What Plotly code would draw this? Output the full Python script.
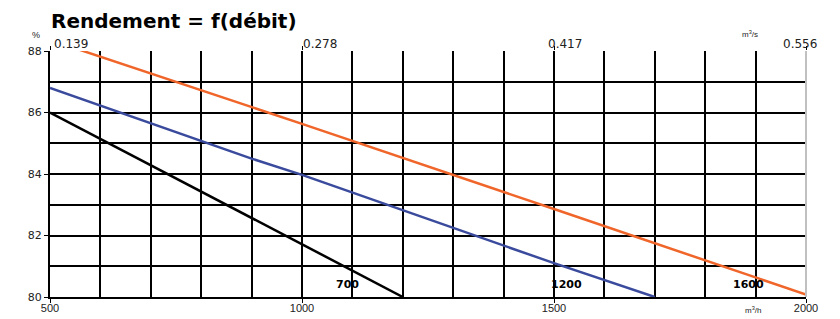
import plotly.graph_objects as go

# Data (m³/h vs efficiency %)
flow_700 = [500, 1200]
eff_700 = [86.0, 80.0]

flow_1200 = [500, 900, 1000, 1500, 1700]
eff_1200 = [86.8, 84.5, 83.97, 81.1, 80.0]

flow_1600 = [500, 1000, 1500, 2000]
eff_1600 = [88.36, 85.63, 82.86, 80.08]

series_names = ["700", "1200", "1600"]
series_colors = ["#000000", "#3A4A9C", "#F0652A"]
label_pos_x = [1090, 1525, 1885]
label_pos_y = [80.4, 80.4, 80.4]

top_tick_values = [500, 1000, 1500, 2000]
top_tick_text = ["0.139", "0.278", "0.417", "0.556"]
top_tick_shift = [21, 18, 11, -6]

bottom_ticks = [500, 1000, 1500, 2000]
y_ticks = [80, 82, 84, 86, 88]

fig = go.Figure()
for fx, fy, c in [(flow_700, eff_700, series_colors[0]),
                  (flow_1200, eff_1200, series_colors[1]),
                  (flow_1600, eff_1600, series_colors[2])]:
    fig.add_trace(go.Scatter(x=fx, y=fy, mode="lines",
                             line=dict(color=c, width=2.5), showlegend=False))

# top axis (m³/s)
fig.add_trace(go.Scatter(x=[v / 3600 for v in top_tick_values], y=[80, 80], xaxis="x2",
                         mode="none", showlegend=False, hoverinfo="skip"))

tick_font = dict(family="Liberation Sans", size=11, color="#222222")
ytick_font = dict(family="DejaVu Sans", size=11, color="#222222")
top_font = dict(family="DejaVu Sans", size=12, color="#222222")

annotations = []
for n, x, y in zip(series_names, label_pos_x, label_pos_y):
    annotations.append(dict(x=x, y=y, text="<b>" + n + "</b>", showarrow=False, xref="x", yref="y",
                            font=dict(family="DejaVu Sans", size=11, color="#000"),
                            xanchor="center", yanchor="middle"))
for v, t, s in zip(top_tick_values, top_tick_text, top_tick_shift):
    annotations.append(dict(x=v, y=1, xref="x", yref="paper", text=t, showarrow=False,
                            xanchor="center", yanchor="bottom", xshift=s, yshift=-2,
                            font=top_font))
annotations += [
    dict(x=0, y=1, xref="paper", yref="paper", text="%", showarrow=False,
         xanchor="right", yanchor="bottom", xshift=-8, yshift=9,
         font=dict(family="Liberation Sans", size=9, color="#222")),
    dict(x=0.926, y=1, xref="paper", yref="paper", text="m<sup>3</sup>/s", showarrow=False,
         xanchor="center", yanchor="bottom", yshift=10,
         font=dict(family="Liberation Sans", size=8, color="#222")),
    dict(x=0.93, y=0, xref="paper", yref="paper", text="m<sup>3</sup>/h", showarrow=False,
         xanchor="center", yanchor="top", yshift=-6,
         font=dict(family="Liberation Sans", size=8, color="#222")),
    dict(x=0, y=1, xref="paper", yref="paper", text="<b>Rendement = f(débit)</b>",
         showarrow=False, xanchor="left", yanchor="middle", xshift=0, yshift=30,
         borderpad=0, font=dict(family="DejaVu Sans", size=20, color="#000")),
]

fig.update_layout(
    width=832, height=311,
    margin=dict(l=42, r=34, t=43, b=22),
    paper_bgcolor="white", plot_bgcolor="white",
    showlegend=False,
    xaxis=dict(range=[500, 2000], tickvals=bottom_ticks, ticks="outside", ticklen=4,
               tickcolor="#000", showgrid=True, gridcolor="#000", gridwidth=2,
               minor=dict(dtick=100, showgrid=True, gridcolor="#000", gridwidth=2, ticks=""),
               showline=True, linecolor="#000", linewidth=2, zeroline=False,
               tickfont=tick_font, automargin=False, ticklabelstandoff=-4),
    xaxis2=dict(range=[500 / 3600, 2000 / 3600], overlaying="x", side="top",
                tickvals=[v / 3600 for v in top_tick_values], showticklabels=False,
                ticks="outside", ticklen=4, tickcolor="#000", showgrid=False,
                showline=False, zeroline=False, automargin=False),
    yaxis=dict(range=[80, 88], tickvals=y_ticks, ticks="outside", ticklen=4,
               tickcolor="#000", showgrid=True, gridcolor="#000", gridwidth=2,
               minor=dict(dtick=1, showgrid=True, gridcolor="#000", gridwidth=2, ticks=""),
               showline=True, linecolor="#000", linewidth=2, zeroline=False,
               tickfont=ytick_font, automargin=False),
    annotations=annotations,
    shapes=[dict(type="line", xref="paper", yref="paper", x0=1, x1=1, y0=0, y1=1,
                 line=dict(color="#C0C0C0", width=2), layer="above")],
)

fig.write_html("out.html")
